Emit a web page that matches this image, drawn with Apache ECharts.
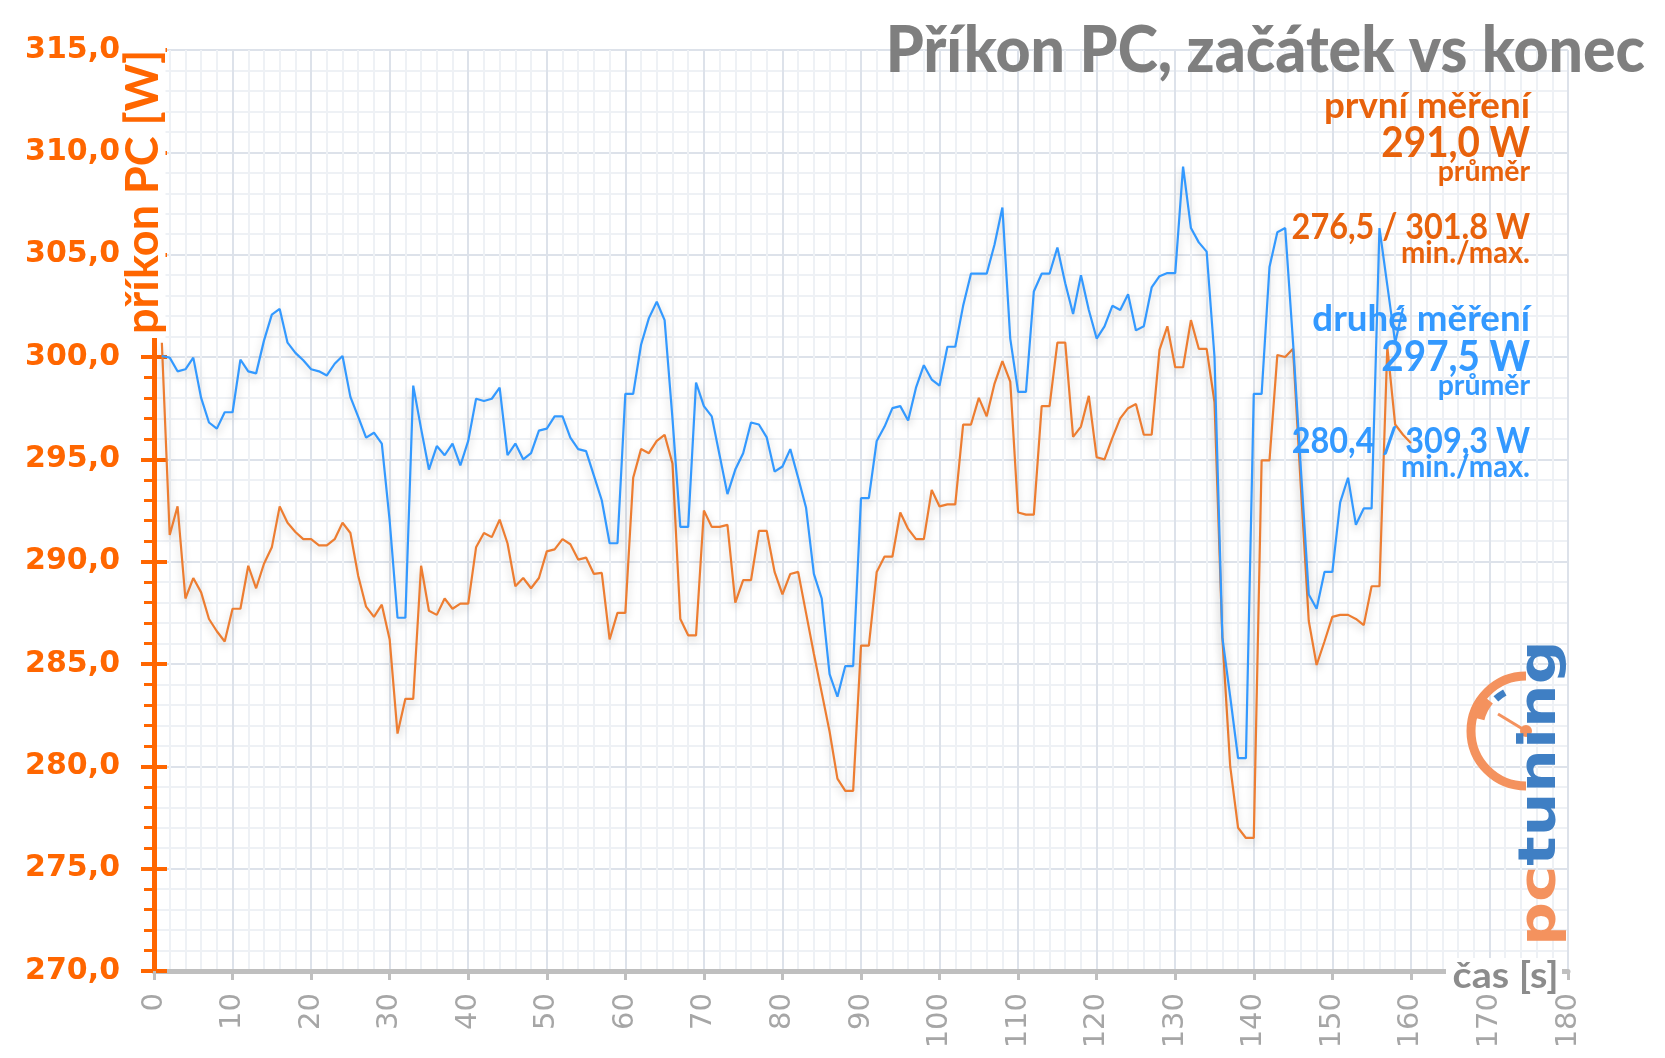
<!DOCTYPE html>
<html>
<head>
<meta charset="utf-8">
<script src="https://cdn.jsdelivr.net/npm/echarts@6/dist/echarts.min.js"></script>
<style>
html,body{margin:0;padding:0;background:#fff;}
#chart{width:1665px;height:1058px;}
</style>
</head>
<body>
<div id="chart"></div>
<script>
// x axis ticks (seconds)
const xMin = 0, xMax = 180, xStep = 10;
// y axis ticks (W)
const yMin = 270, yMax = 315, yStep = 5;

// první měření (orange), one sample per second starting at t = 1 s
const prvniMereni = [
 300.7,291.3,292.7,288.2,289.2,288.5,287.2,286.6,286.1,287.7,
 287.7,289.8,288.7,289.9,290.7,292.7,291.9,291.45,291.1,291.1,
 290.8,290.8,291.1,291.9,291.4,289.3,287.8,287.3,287.9,286.2,
 281.6,283.3,283.3,289.8,287.6,287.4,288.2,287.7,287.95,287.95,
 290.7,291.4,291.2,292.05,290.9,288.8,289.2,288.7,289.2,290.5,
 290.6,291.1,290.85,290.1,290.2,289.4,289.45,286.2,287.5,287.5,
 294.1,295.5,295.3,295.9,296.2,294.8,287.2,286.4,286.4,292.5,
 291.7,291.7,291.8,288.0,289.1,289.1,291.5,291.5,289.5,288.4,
 289.4,289.5,287.5,285.5,283.6,281.7,279.4,278.8,278.8,285.9,
 285.9,289.5,290.25,290.25,292.4,291.6,291.1,291.1,293.5,292.7,
 292.8,292.8,296.7,296.7,298.0,297.1,298.7,299.8,298.8,292.4,
 292.3,292.3,297.6,297.6,300.7,300.7,296.1,296.6,298.1,295.1,
 295.0,296.05,297.0,297.5,297.7,296.2,296.2,300.35,301.5,299.5,
 299.5,301.8,300.4,300.4,297.8,286.3,280.0,277.0,276.5,276.5,
 294.95,294.95,300.1,300.0,300.4,293.6,287.1,284.95,286.1,287.3,
 287.4,287.4,287.2,286.9,288.8,288.8,300.5,296.7,296.2,295.8
];

// druhé měření (blue)
const druheMereni = [
 300.05,299.97,299.3,299.4,299.97,298.0,296.8,296.5,297.3,297.3,
 299.87,299.3,299.2,300.8,302.07,302.35,300.7,300.2,299.84,299.4,
 299.3,299.1,299.67,300.05,298.05,297.07,296.06,296.3,295.77,292.0,
 287.26,287.26,298.6,296.5,294.5,295.65,295.2,295.77,294.7,295.9,
 297.96,297.85,297.96,298.5,295.2,295.77,295.0,295.3,296.4,296.5,
 297.1,297.1,296.06,295.5,295.4,294.2,293.0,290.9,290.9,298.2,
 298.2,300.6,301.9,302.7,301.8,297.0,291.7,291.7,298.75,297.6,
 297.1,295.2,293.3,294.5,295.3,296.8,296.7,296.07,294.4,294.65,
 295.5,294.1,292.65,289.4,288.2,284.5,283.4,284.9,284.9,293.1,
 293.1,295.9,296.6,297.5,297.6,296.9,298.5,299.6,298.9,298.6,
 300.5,300.5,302.5,304.07,304.07,304.07,305.5,307.3,300.9,298.3,
 298.3,303.2,304.07,304.07,305.35,303.6,302.1,304.0,302.3,300.9,
 301.5,302.5,302.3,303.07,301.3,301.5,303.4,303.95,304.1,304.1,
 309.3,306.3,305.6,305.15,300.0,286.3,283.4,280.4,280.4,298.2,
 298.2,304.4,306.1,306.3,300.7,294.5,288.4,287.7,289.5,289.5,
 292.9,294.1,291.8,292.6,292.6,306.3,303.5,300.7,302.4
];

const chartTitle = 'Příkon PC, začátek vs konec';
const yAxisName = 'příkon PC [W]';
const xAxisName = 'čas [s]';
const notes1 = ['první měření', '291,0 W', 'průměr', '276,5 / 301.8 W', 'min./max.'];
const notes2 = ['druhé měření', '297,5 W', 'průměr', '280,4 / 309,3 W', 'min./max.'];

const ORANGE_AXIS = '#FF6600';
const ORANGE_TXT = '#E8620C';
const ORANGE_LINE = '#ED7D31';
const BLUE = '#3399FF';
const GRID_MAJOR = '#DDE2EA';
const GRID_MINOR = '#EEF1F5';

const chart = echarts.init(document.getElementById('chart'), null, {renderer: 'canvas'});

function txt(text, x, y, size, color, sx, weight) {
  return {
    type: 'text', x: x, y: y, scaleX: sx || 1, z: 100,
    style: {
      text: text, fill: color,
      font: (weight || 'bold') + ' ' + size + 'px Lato',
      textAlign: 'right', textVerticalAlign: 'middle',
      shadowColor: 'rgba(255,255,255,1)', shadowBlur: 6
    }
  };
}

const RX = 1530;
const graphics = [
  txt(chartTitle, 1645, 51, 64, '#7F7F7F', 0.95, '900'),
  txt(notes1[0], RX, 106, 36, ORANGE_TXT, 1.02),
  txt(notes1[1], RX, 143, 42, ORANGE_TXT, 0.92),
  txt(notes1[2], RX, 172, 29, ORANGE_TXT, 0.98),
  txt(notes1[3], RX, 227, 36, ORANGE_TXT, 0.9),
  txt(notes1[4], RX, 253, 30, ORANGE_TXT, 0.97),
  txt(notes2[0], RX, 319, 36, BLUE, 1.02),
  txt(notes2[1], RX, 357, 42, BLUE, 0.92),
  txt(notes2[2], RX, 386, 29, BLUE, 0.98),
  txt(notes2[3], RX, 441, 36, BLUE, 0.9),
  txt(notes2[4], RX, 467, 30, BLUE, 0.97),
  // y axis name, rotated, white box over the axis
  {
    type: 'text', x: 143, y: 338, rotation: Math.PI / 2, scaleX: 1.0, z: 100,
    style: {
      text: yAxisName, fill: ORANGE_AXIS, font: 'bold 45px Lato',
      textAlign: 'left', textVerticalAlign: 'middle',
      backgroundColor: '#fff', padding: [0, 4, 0, 4]
    }
  },
  // x axis name
  {
    type: 'text', x: 1562, y: 976, scaleX: 1.1, z: 100,
    style: {
      text: xAxisName, fill: '#8C8C8C', font: 'bold 36px Lato',
      textAlign: 'right', textVerticalAlign: 'middle',
      backgroundColor: '#fff', padding: [0, 3, 0, 6]
    }
  },
  // logo
  {
    type: 'group', z: 90,
    children: [
      {type: 'arc', z: 91, shape: {cx: 1526, cy: 731, r: 55, startAngle: Math.PI / 2, endAngle: Math.PI * 1.5, clockwise: true},
        style: {stroke: '#F4925E', lineWidth: 9, fill: null}},
      {type: 'arc', z: 91, shape: {cx: 1526, cy: 731, r: 51, startAngle: Math.PI * 1.08, endAngle: Math.PI * 1.22, clockwise: true},
        style: {stroke: '#F4925E', lineWidth: 16, fill: null}},
      {type: 'arc', z: 92, shape: {cx: 1526, cy: 731, r: 44, startAngle: Math.PI * 1.26, endAngle: Math.PI * 1.34, clockwise: true},
        style: {stroke: '#3F7FC4', lineWidth: 7, fill: null}},
      {type: 'line', z: 92, shape: {x1: 1526, y1: 731, x2: 1498, y2: 714}, style: {stroke: '#F4925E', lineWidth: 3}},
      {type: 'circle', z: 92, shape: {cx: 1526, cy: 731, r: 6}, style: {fill: '#F4925E'}},
      {
        type: 'text', z: 92, x: 1541, y: 946, rotation: Math.PI / 2, scaleX: 1.18,
        style: {
          text: '{p|pc}{t|tuning}', font: 'bold 52px "DejaVu Sans"',
          textAlign: 'left', textVerticalAlign: 'middle',
          rich: {
            p: {fill: '#F4925E', font: 'bold 52px "DejaVu Sans"'},
            t: {fill: '#3F7FC4', font: 'bold 52px "DejaVu Sans"'}
          }
        }
      }
    ]
  }
];

const yTickBase = {
  type: 'value', min: yMin, max: yMax, interval: yStep, position: 'left'
};

const option = {
  animation: false,
  backgroundColor: '#fff',
  grid: {left: 154, right: 97, top: 50, bottom: 87, containLabel: false},
  xAxis: {
    type: 'value', min: xMin, max: xMax, interval: xStep,
    axisLine: {show: true, onZero: false, lineStyle: {color: '#BFBFBF', width: 5}},
    axisTick: {show: true, length: 9, lineStyle: {color: '#BFBFBF', width: 3}},
    axisLabel: {rotate: 90, margin: 22, fontSize: 29, color: '#A6A6A6', fontFamily: 'DejaVu Sans'},
    splitLine: {show: true, lineStyle: {color: GRID_MAJOR, width: 2}},
    minorTick: {show: false, splitNumber: 5},
    minorSplitLine: {show: true, lineStyle: {color: GRID_MINOR, width: 2}}
  },
  yAxis: [
    Object.assign({}, yTickBase, {
      axisLine: {show: true, lineStyle: {color: ORANGE_AXIS, width: 5}},
      axisTick: {show: true, length: 13, lineStyle: {color: ORANGE_AXIS, width: 4}},
      minorTick: {show: true, splitNumber: 5, length: 10, lineStyle: {color: ORANGE_AXIS, width: 3}},
      axisLabel: {
        margin: 34, fontSize: 30, fontWeight: 'bold', color: ORANGE_AXIS, fontFamily: 'DejaVu Sans',
        formatter: function (v) { return v.toFixed(1).replace('.', ','); }
      },
      splitLine: {show: true, lineStyle: {color: GRID_MAJOR, width: 2}},
      minorSplitLine: {show: true, lineStyle: {color: GRID_MINOR, width: 2}}
    }),
    Object.assign({}, yTickBase, {
      axisLine: {show: false},
      axisTick: {show: true, inside: true, length: 13, lineStyle: {color: ORANGE_AXIS, width: 4}},
      axisLabel: {show: false},
      splitLine: {show: false}
    })
  ],
  series: [
    {
      name: 'první měření', type: 'line', yAxisIndex: 0, showSymbol: false, z: 3,
      data: prvniMereni.map(function (v, i) { return [i + 1, v]; }),
      lineStyle: {color: ORANGE_LINE, width: 2.2, shadowColor: 'rgba(0,0,0,0.22)', shadowBlur: 8, shadowOffsetY: 4}
    },
    {
      name: 'druhé měření', type: 'line', yAxisIndex: 0, showSymbol: false, z: 4,
      data: druheMereni.map(function (v, i) { return [i + 1, v]; }),
      lineStyle: {color: BLUE, width: 2.2, shadowColor: 'rgba(0,0,0,0.22)', shadowBlur: 8, shadowOffsetY: 4}
    }
  ],
  graphic: graphics
};
chart.setOption(option);
</script>
</body>
</html>
